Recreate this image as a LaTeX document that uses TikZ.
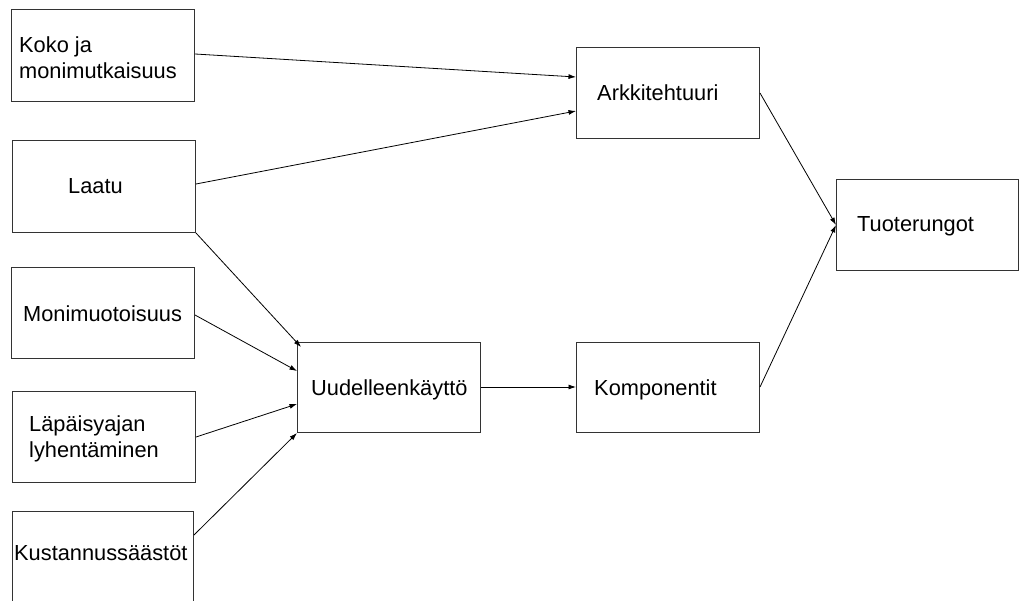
\documentclass[tikz,border=0pt]{standalone}
\usepackage{fontspec}
\setmainfont{Liberation Sans}
\usetikzlibrary{arrows.meta,calc}
\begin{document}
\begin{tikzpicture}[x=1pt,y=-1pt,
  box/.style={draw=black!80,line width=1pt,inner sep=0pt,anchor=north west,fill=none},
  lbl/.style={inner sep=0pt,anchor=base west,align=left,font=\fontsize{21.8}{26}\selectfont},
  conn/.style={draw=black,line width=0.8pt,-{Latex[length=7.5pt,width=5pt]}}]
\useasboundingbox[fill=white] (0,0) rectangle (1019,601);
% boxes
\node[box,minimum width=183pt,minimum height=92pt] (b1) at (11,9) {};
\node[box,minimum width=183pt,minimum height=92pt] (b2) at (12,140) {};
\node[box,minimum width=183pt,minimum height=91pt] (b3) at (11,267) {};
\node[box,minimum width=183pt,minimum height=91pt] (b4) at (12,391) {};
\node[box,minimum width=181pt,minimum height=120pt] (b5) at (12,511) {};
\node[box,minimum width=183pt,minimum height=90pt] (uu) at (297,342) {};
\node[box,minimum width=183pt,minimum height=90pt] (ko) at (576,342) {};
\node[box,minimum width=183pt,minimum height=91pt] (ar) at (576,47) {};
\node[box,minimum width=182pt,minimum height=91pt] (tu) at (836,179) {};
% texts
\node[lbl] (t1) at (19,79) {Koko ja\\monimutkaisuus};
\node[lbl] (t2) at (68,194) {Laatu};
\node[lbl] (t3) at (23,322) {Monimuotoisuus};
\node[lbl] (t4) at (29,457) {Läpäisyajan\\lyhentäminen};
\node[lbl] (t5) at (14,560) {Kustannussäästöt};
\node[lbl] (t6) at (311,395) {Uudelleenkäyttö};
\node[lbl] (t7) at (594,395) {Komponentit};
\node[lbl] (t8) at (597,101) {Arkkitehtuuri};
\node[lbl] (t9) at (857,232) {Tuoterungot};
% connectors
\draw[conn] ([yshift=-45pt]b1.north east) -- ([yshift=-30pt]ar.north west);
\draw[conn] ([yshift=-44pt]b2.north east) -- ([yshift=-64pt]ar.north west);
\draw[conn] (b2.south east) -- ([shift={(4pt,-5pt)}]uu.north west);
\draw[conn] ([yshift=-48pt]b3.north east) -- ([yshift=-29pt]uu.north west);
\draw[conn] ([yshift=-46pt]b4.north east) -- ([yshift=-62pt]uu.north west);
\draw[conn] ([yshift=-24pt]b5.north east) -- (uu.south west);
\draw[conn] ([yshift=-45pt]uu.north east) -- ([yshift=-45pt]ko.north west);
\draw[conn] ([yshift=-46pt]ar.north east) -- ([yshift=-46pt]tu.north west);
\draw[conn] ([yshift=-45pt]ko.north east) -- ([yshift=-46pt]tu.north west);
\end{tikzpicture}
\end{document}
